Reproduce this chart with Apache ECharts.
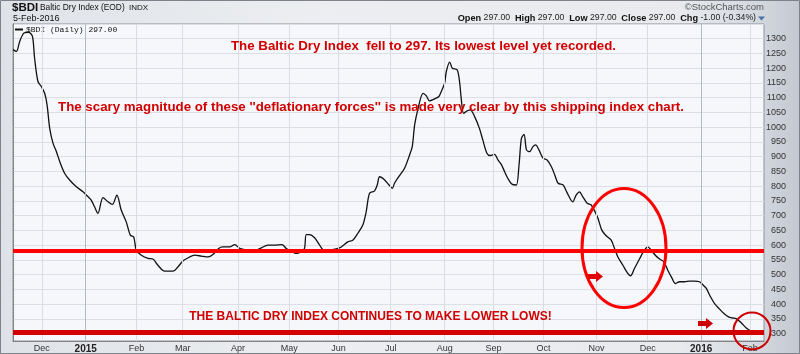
<!DOCTYPE html>
<html>
<head>
<meta charset="utf-8">
<title>$BDI Baltic Dry Index</title>
<script src="https://cdn.jsdelivr.net/npm/echarts@6/dist/echarts.min.js"></script>
<style>
  html, body { margin: 0; padding: 0; }
  #main {
    width: 800px; height: 354px;
    background: linear-gradient(to right, #dfe2e7 0%, #eceef1 40%, #e8eaee 85%, #d3d7de 95%, #c4c8d1 100%);
  }
</style>
</head>
<body>
<div id="main"></div>
<script>
// x = trading day counted from the left edge of the plot (~late Nov 2014)
var days = [0, 1.4, 2.8, 4.5, 6.5, 8.1, 9.0, 10.4, 11.8, 13.2, 14.2, 15.3, 16.7, 18.1, 19.5, 21.5, 23.6, 26.4, 29.2, 31.3,
  32.6, 34.0, 35.4, 37.5, 39.6, 41.4, 43.3, 45.1, 47.2, 48.9, 50.3, 51.4, 53.5, 56.3, 58.3, 60.4, 63.2, 66.7, 68.8, 70.8,
  73.6, 75.7, 78.5, 81.3, 83.3, 85.7, 87.5, 90.3, 92.4, 94.5, 96.5, 100.0, 103.5, 106.2, 109.0, 112.1, 113.9, 115.9, 118.0, 120.1,
  121.5, 122.2, 123.6, 125.7, 127.8, 129.6, 131.9, 134.7, 136.8, 139.5, 141.6, 143.7, 145.8, 147.2, 148.6, 150.7, 151.8, 152.8, 154.8, 156.7,
  158.1, 159.0, 161.1, 163.2, 165.3, 166.4, 167.4, 168.7, 170.9, 172.2, 173.6, 175.7, 177.5, 178.5, 179.9, 180.6, 182.0, 183.1, 185.1, 186.1,
  186.8, 187.8, 189.2, 190.6, 192.4, 194.4, 195.8, 197.5, 198.9, 200.7, 202.1, 203.5, 204.9, 206.2, 208.1, 209.8, 210.9, 211.9, 213.0, 214.0,
  215.3, 216.7, 217.8, 219.2, 220.9, 222.6, 224.4, 225.8, 227.2, 229.3, 230.8, 233.3, 234.7, 236.1, 237.5, 239.3, 241.0, 242.6, 243.8, 245.4,
  247.2, 249.3, 250.7, 252.1, 254.2, 256.0, 257.4, 259.0, 261.1, 262.9, 264.6, 266.0, 267.7, 269.5, 271.2, 272.9, 274.6, 276.0, 277.8, 279.9,
  282.0, 284.0, 286.1, 287.6, 288.9, 290.7, 292.4, 294.5, 296.3, 298.2, 300.0, 301.4, 303.5, 305.6, 307.7, 310.5];
var bdi = [1263, 1257, 1291, 1319, 1322, 1308, 1234, 1155, 1138, 1115, 1076, 996, 945, 917, 883, 844, 821, 798, 781, 764,
  753, 730, 708, 761, 747, 738, 770, 719, 679, 634, 628, 583, 566, 555, 553, 532, 512, 512, 527, 546,
  560, 566, 563, 560, 568, 589, 594, 594, 602, 589, 585, 580, 591, 600, 600, 602, 589, 580, 572, 578,
  589, 636, 636, 625, 600, 583, 583, 587, 594, 611, 617, 640, 668, 713, 776, 784, 804, 832, 822, 804,
  793, 810, 836, 861, 906, 934, 1008, 1059, 1115, 1107, 1089, 1096, 1104, 1121, 1149, 1189, 1221, 1200, 1195, 1155,
  1098, 1047, 1055, 1059, 1036, 996, 957, 912, 904, 908, 889, 874, 849, 827, 806, 804, 872, 962, 976, 923,
  917, 934, 940, 923, 895, 889, 866, 838, 810, 804, 780, 747, 770, 781, 764, 742, 736, 713, 691, 651,
  632, 617, 589, 560, 532, 507, 496, 521, 553, 580, 594, 583, 566, 553, 544, 515, 489, 470, 476, 476,
  478, 478, 476, 465, 454, 425, 402, 383, 368, 357, 353, 351, 337, 319, 308, 297];

// month starts (same trading-day scale) and their labels
var monthPos = [12, 30.3, 51.5, 70.7, 93.8, 115.1, 135.7, 157.4, 179.9, 200.3, 221.1, 243.2, 264.5, 286.8, 307.2];
var monthLabels = ['Dec', '2015', 'Feb', 'Mar', 'Apr', 'May', 'Jun', 'Jul', 'Aug', 'Sep', 'Oct', 'Nov', 'Dec', '2016', 'Feb'];

// y tick labels and the two drawn support levels
var yTicks = [300, 350, 400, 450, 500, 550, 600, 650, 700, 750, 800, 850, 900, 950, 1000, 1050, 1100, 1150, 1200, 1250, 1300];
var supportLevels = [580, 305];

var lineData = [];
for (var i = 0; i < days.length; i++) {
  lineData.push([days[i], bdi[i]]);
}

var gridLines = [];
for (var j = 0; j < monthPos.length; j++) {
  var isYear = /^\d{4}$/.test(monthLabels[j]);
  gridLines.push({
    xAxis: monthPos[j],
    lineStyle: { color: isYear ? '#b4b9c3' : '#d9dce3', width: 1, type: 'solid' }
  });
}

var sans = '"Liberation Sans", Arial, sans-serif';

var option = {
  animation: false,
  grid: {
    left: 13, right: 36, top: 24, bottom: 13,
    show: true,
    backgroundColor: '#f6f7fb',
    borderColor: '#8d929b',
    borderWidth: 1
  },
  xAxis: {
    type: 'value',
    min: 0,
    max: 313,
    axisLine: { show: true, lineStyle: { color: '#777', type: 'dotted' } },
    axisTick: { show: false },
    splitLine: { show: false },
    axisLabel: {
      customValues: monthPos,
      margin: 3,
      fontSize: 9,
      fontFamily: sans,
      color: '#333',
      formatter: function (v) {
        var k = monthPos.indexOf(v);
        if (k < 0) return '';
        var s = monthLabels[k];
        return /^\d{4}$/.test(s) ? '{b|' + s + '}' : s;
      },
      rich: {
        b: { fontWeight: 'bold', fontSize: 10, color: '#222', fontFamily: sans }
      }
    }
  },
  yAxis: {
    type: 'value',
    position: 'right',
    min: 275,
    max: 1350,
    interval: 25,
    axisLine: { show: true, lineStyle: { color: '#777', type: 'dotted' } },
    axisTick: { show: false },
    splitLine: { show: true, lineStyle: { color: ['rgba(0,0,0,0)', '#dcdfe6'], width: 1 } },
    axisLabel: {
      customValues: yTicks,
      margin: 22,
      align: 'right',
      fontSize: 9,
      fontFamily: sans,
      color: '#333',
      formatter: function (v) { return String(v); }
    }
  },
  series: [
    {
      // month grid lines under the price line
      type: 'line',
      data: [],
      z: 1,
      silent: true,
      markLine: { silent: true, symbol: 'none', label: { show: false }, animation: false, data: gridLines }
    },
    {
      name: '$BDI',
      type: 'line',
      data: lineData,
      z: 2,
      smooth: 0.3,
      showSymbol: false,
      symbol: 'none',
      lineStyle: { color: '#111', width: 1.3 }
    },
    {
      // hand drawn red support levels
      type: 'line',
      data: [],
      z: 5,
      silent: true,
      markLine: {
        silent: true, symbol: 'none', label: { show: false }, animation: false,
        data: [
          { yAxis: supportLevels[0], lineStyle: { color: '#ff0000', width: 4, type: 'solid' } },
          { yAxis: supportLevels[1], lineStyle: { color: '#d40000', width: 5, type: 'solid' } }
        ]
      }
    }
  ],
  graphic: [
    // header
    { type: 'text', x: 12, y: 8, style: { text: '$BDI', font: 'bold 11.5px ' + sans, fill: '#111', verticalAlign: 'middle' } },
    { type: 'text', x: 40, y: 8, style: { text: 'Baltic Dry Index (EOD)', font: '8.4px ' + sans, fill: '#111', verticalAlign: 'middle' } },
    { type: 'text', x: 129, y: 8, style: { text: 'INDX', font: '8px ' + sans, fill: '#111', verticalAlign: 'middle' } },
    { type: 'text', x: 13, y: 19, style: { text: '5-Feb-2016', font: '9px ' + sans, fill: '#111', verticalAlign: 'middle' } },
    { type: 'text', x: 764, y: 7.5, style: { text: '\u00a9StockCharts.com', font: '9.5px ' + sans, fill: '#555', align: 'right', verticalAlign: 'middle' } },
    {
      type: 'text', x: 756, y: 18,
      style: {
        text: '{b|Open} 297.00  {b|High} 297.00  {b|Low} 297.00  {b|Close} 297.00  {b|Chg} -1.00 (-0.34%)',
        font: '8.7px ' + sans, fill: '#222', align: 'right', verticalAlign: 'middle',
        rich: { b: { font: 'bold 9.2px ' + sans, fill: '#111' } }
      }
    },
    { type: 'polygon', shape: { points: [[758, 16.5], [765, 16.5], [761.5, 20.5]] }, style: { fill: '#4a6fa8' } },
    // legend inside plot
    { type: 'rect', shape: { x: 15, y: 28.5, width: 8, height: 2 }, style: { fill: '#111' } },
    { type: 'text', x: 26, y: 29.5, style: { text: '$BDI (Daily) 297.00', font: '8px "Liberation Mono", "DejaVu Sans Mono", monospace', fill: '#111', verticalAlign: 'middle' } },
    // annotations
    { type: 'text', x: 423.5, y: 46, z: 10, style: { text: 'The Baltic Dry Index  fell to 297. Its lowest level yet recorded.', font: 'bold 13.3px ' + sans, fill: '#d00000', align: 'center', verticalAlign: 'middle' } },
    { type: 'text', x: 371, y: 107, z: 10, style: { text: "The scary magnitude of these ''deflationary forces'' is made very clear by this shipping index chart.", font: 'bold 13.3px ' + sans, fill: '#d00000', align: 'center', verticalAlign: 'middle' } },
    { type: 'text', x: 370.5, y: 317, z: 10, style: { text: 'THE BALTIC DRY INDEX CONTINUES TO MAKE LOWER LOWS!', font: 'bold 12px ' + sans, fill: '#d00000', align: 'center', verticalAlign: 'middle' } },
    { type: 'ellipse', z: 10, shape: { cx: 624, cy: 248, rx: 42, ry: 59.5 }, style: { fill: 'none', stroke: '#ff0000', lineWidth: 3 } },
    { type: 'circle', z: 10, shape: { cx: 752, cy: 331, r: 18.5 }, style: { fill: 'none', stroke: '#cc0000', lineWidth: 2 } },
    { type: 'polygon', z: 10, shape: { points: [[588, 274], [596, 274], [596, 271], [603, 276.5], [596, 282], [596, 279], [588, 279]] }, style: { fill: '#e00000' } },
    { type: 'polygon', z: 10, shape: { points: [[698, 321], [706, 321], [706, 318], [713, 323.5], [706, 329], [706, 326], [698, 326]] }, style: { fill: '#cc0000' } },
    // outer frame
    { type: 'rect', z: 20, shape: { x: 0.5, y: 0.5, width: 799, height: 353 }, style: { fill: 'none', stroke: '#7d828b', lineWidth: 1 } }
  ]
};

var chart = echarts.init(document.getElementById('main'));
chart.setOption(option);
</script>
</body>
</html>
